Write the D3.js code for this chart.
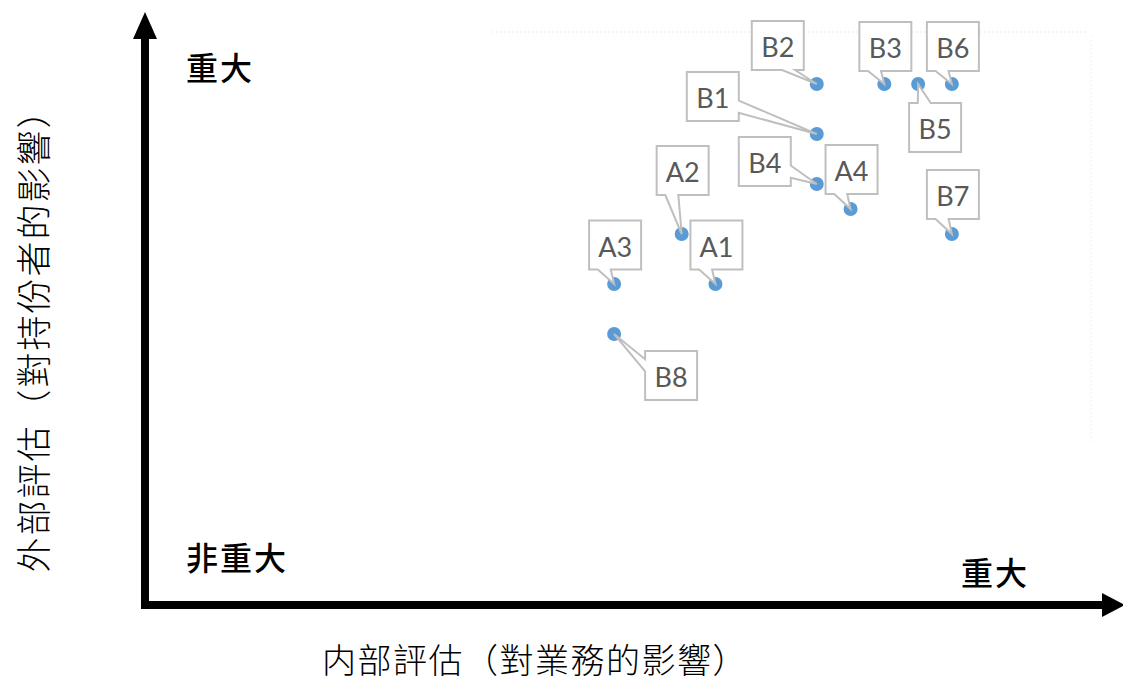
<!DOCTYPE html>
<html>
<head>
<meta charset="utf-8">
<script src="https://cdn.jsdelivr.net/npm/d3@7"></script>
<style>
  html, body { margin: 0; padding: 0; background: #fff; }
  svg { display: block; }
</style>
</head>
<body>
<script>
// Materiality matrix: internal vs external assessment.
const names   = ["A1", "A2", "A3", "A4", "B1", "B2", "B3", "B4", "B5", "B6", "B7", "B8"];
const xValues = [7, 6, 4, 11, 10, 10, 12, 10, 13, 14, 14, 4];
const yValues = [3, 4, 3, 4.5, 6, 7, 7, 5, 7, 7, 4, 2];

const xTitle = "内部評估（對業務的影響）";
const yTitle = "外部評估（對持份者的影響）";
const highLabel = "重大";
const lowLabel = "非重大";

// Where each callout box sits relative to its point (pixels, box centre).
const labelOffset = {
  A1: [1, -39], A2: [1, -63.5], A3: [1, -39], A4: [1, -39.5],
  B1: [-104, -37.5], B2: [-39, -38.5], B3: [1, -37.5], B4: [-52, -22.5],
  B5: [17, 43.5], B6: [1, -37.5], B7: [1, -39.5], B8: [57, 41.5]
};

const width = 1123, height = 681;
const boxW = 52, boxH = 49;

const svg = d3.select("body").append("svg")
  .attr("width", width)
  .attr("height", height)
  .attr("viewBox", "0 0 " + width + " " + height);

// Scales used to place the points inside the plot area.
const xScale = d3.scaleLinear().domain([0, 18]).range([479, 1087]);
const yScale = d3.scaleLinear().domain([0, 8]).range([434, 34]);

// Faint plot area edges (top gridline and right border).
const plot = svg.append("g");
plot.append("line")
  .attr("x1", 492).attr("x2", 1088)
  .attr("y1", 32).attr("y2", 32)
  .style("stroke", "#e3e3e3")
  .style("stroke-width", 1.2)
  .style("stroke-dasharray", "1.5,2.5");
plot.append("line")
  .attr("x1", 1091).attr("x2", 1091)
  .attr("y1", 36).attr("y2", 441)
  .style("stroke", "#ececec")
  .style("stroke-width", 1)
  .style("stroke-dasharray", "1.5,2.5");

// Big black arrows for the two axes.
const axes = svg.append("g").style("fill", "#000").style("stroke", "#000");
axes.append("line")
  .attr("x1", 145).attr("x2", 145)
  .attr("y1", 609).attr("y2", 36)
  .style("stroke-width", 8);
axes.append("path")
  .attr("d", "M133,39 L145,12 L157,39 Z")
  .style("stroke", "none");
axes.append("line")
  .attr("x1", 141).attr("x2", 1105)
  .attr("y1", 605).attr("y2", 605)
  .style("stroke-width", 8);
axes.append("path")
  .attr("d", "M1102,593 L1125,605 L1102,617 Z")
  .style("stroke", "none");

// Corner labels.
const cornerFont = "'Noto Sans CJK TC', 'Noto Sans CJK SC', sans-serif";
function cornerLabel(x, y, txt) {
  svg.append("text")
    .attr("x", x).attr("y", y)
    .attr("dominant-baseline", "central")
    .style("font-family", cornerFont)
    .style("font-size", "32px")
    .style("font-weight", 500)
    .style("letter-spacing", "2px")
    .text(txt);
}
cornerLabel(186, 66, highLabel);
cornerLabel(186, 556, lowLabel);
cornerLabel(961, 571, highLabel);

// Axis titles.
svg.append("text")
  .attr("x", 535).attr("y", 658)
  .attr("text-anchor", "middle")
  .attr("dominant-baseline", "central")
  .style("font-family", cornerFont)
  .style("font-size", "34px")
  .style("font-weight", 300)
  .style("letter-spacing", "1.5px")
  .text(xTitle);
svg.append("text")
  .attr("transform", "translate(31,332) rotate(-90)")
  .attr("text-anchor", "middle")
  .attr("dominant-baseline", "central")
  .style("font-family", cornerFont)
  .style("font-size", "35px")
  .style("font-weight", 300)
  .style("letter-spacing", "2px")
  .text(yTitle);

// Excel style wedge rectangle callout, pointing at (tx, ty).
function calloutPath(l, t, w, h, tx, ty) {
  const r = l + w, b = t + h;
  const dxPos = tx - (l + w / 2), dyPos = ty - (t + h / 2);
  const dz = Math.abs(dyPos) - Math.abs(dxPos * h / w);
  const pick = (c, a, z) => (c > 0 ? a : z);
  const x1 = l + w * pick(dxPos, 7, 2) / 12, x2 = l + w * pick(dxPos, 10, 5) / 12;
  const y1 = t + h * pick(dyPos, 7, 2) / 12, y2 = t + h * pick(dyPos, 10, 5) / 12;
  const xl = pick(dz, l, pick(dxPos, l, tx)), yl = pick(dz, y1, pick(dxPos, y1, ty));
  const xt = pick(dz, pick(dyPos, x1, tx), x1), yt = pick(dz, pick(dyPos, t, ty), t);
  const xr = pick(dz, r, pick(dxPos, tx, r)), yr = pick(dz, y1, pick(dxPos, ty, y1));
  const xb = pick(dz, pick(dyPos, tx, x1), x1), yb = pick(dz, pick(dyPos, ty, b), b);

  const p = d3.path();
  p.moveTo(l, t);
  p.lineTo(x1, t); p.lineTo(xt, yt); p.lineTo(x2, t); p.lineTo(r, t);
  p.lineTo(r, y1); p.lineTo(xr, yr); p.lineTo(r, y2); p.lineTo(r, b);
  p.lineTo(x2, b); p.lineTo(xb, yb); p.lineTo(x1, b); p.lineTo(l, b);
  p.lineTo(l, y2); p.lineTo(xl, yl); p.lineTo(l, y1);
  p.closePath();
  return p.toString();
}

const points = names.map((n, i) => ({ name: n, x: xValues[i], y: yValues[i] }));

// Points.
svg.append("g").selectAll("circle")
  .data(points)
  .join("circle")
  .attr("cx", d => xScale(d.x))
  .attr("cy", d => yScale(d.y))
  .attr("r", 7)
  .style("fill", "#5b9bd5");

// Callout labels drawn over the points.
const labels = svg.append("g").selectAll("g")
  .data(points)
  .join("g");

labels.append("path")
  .attr("d", d => {
    const px = xScale(d.x), py = yScale(d.y);
    const off = labelOffset[d.name];
    const l = px + off[0] - boxW / 2, t = py + off[1] - boxH / 2;
    return calloutPath(l, t, boxW, boxH, px, py);
  })
  .style("fill", "#fff")
  .style("stroke", "#bfbfbf")
  .style("stroke-width", 2)
  .style("stroke-linejoin", "miter");

labels.append("text")
  .attr("x", d => xScale(d.x) + labelOffset[d.name][0])
  .attr("y", d => yScale(d.y) + labelOffset[d.name][1] + 1)
  .attr("text-anchor", "middle")
  .attr("dominant-baseline", "central")
  .style("font-family", "Lato, 'Open Sans', sans-serif")
  .style("font-size", "27px")
  .style("fill", "#595959")
  .text(d => d.name);
</script>
</body>
</html>
